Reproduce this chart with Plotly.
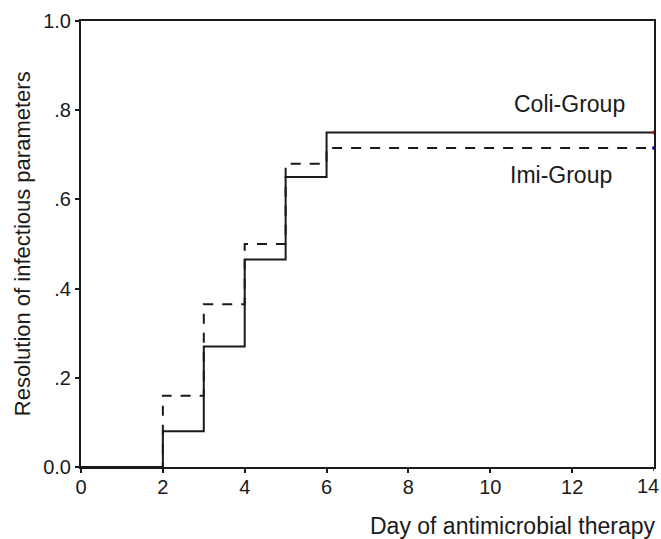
import plotly.graph_objects as go

days = [0, 2, 3, 4, 5, 6, 14]
coli_group = [0, 0.08, 0.27, 0.465, 0.65, 0.75, 0.75]
imi_group = [0, 0.16, 0.365, 0.50, 0.68, 0.715, 0.715]

x_ticks = [0, 2, 4, 6, 8, 10, 12, 14]
x_tick_labels = ["0", "2", "4", "6", "8", "10", "12", "14"]
y_ticks = [0.0, 0.2, 0.4, 0.6, 0.8, 1.0]
y_tick_labels = ["0.0", ".2", ".4", ".6", ".8", "1.0"]

FONT = "Liberation Sans, Arial, sans-serif"
INK = "#1a1a1a"

fig = go.Figure()
fig.add_trace(go.Scatter(
    x=days, y=imi_group, mode="lines", line_shape="hv",
    line=dict(color=INK, width=2, dash="10px,9px"),
    showlegend=False, hoverinfo="skip"))
fig.add_trace(go.Scatter(
    x=days, y=coli_group, mode="lines", line_shape="hv",
    line=dict(color=INK, width=2),
    showlegend=False, hoverinfo="skip"))
fig.add_trace(go.Scatter(
    x=[days[-1]], y=[coli_group[-1]], mode="markers",
    marker=dict(color="red", size=4), showlegend=False, cliponaxis=False))
fig.add_trace(go.Scatter(
    x=[days[-1]], y=[imi_group[-1]], mode="markers",
    marker=dict(color="blue", size=4), showlegend=False, cliponaxis=False))

fig.add_annotation(x=11.94, y=coli_group[-1], yshift=29, text="Coli-Group",
                   showarrow=False, font=dict(family=FONT, size=23, color=INK))
fig.add_annotation(x=11.72, y=imi_group[-1], yshift=-27, text="Imi-Group",
                   showarrow=False, font=dict(family=FONT, size=23, color=INK))
fig.add_annotation(x=1.005, xref="paper", xanchor="right", y=-0.133, yref="paper",
                   yanchor="middle", text="Day of antimicrobial therapy", borderpad=0,
                   showarrow=False, font=dict(family=FONT, size=23, color=INK))
fig.add_annotation(x=-0.1026, xref="paper", xanchor="center", y=0.5, yref="paper",
                   yanchor="middle", textangle=-90,
                   text="Resolution of infectious parameters",
                   showarrow=False, font=dict(family=FONT, size=22, color=INK))
# last x tick label is kept inside the page, as in the reference
fig.add_annotation(x=1.0105, xref="paper", xanchor="right", y=x_ticks[-1] * 0, yref="y",
                   yshift=-19, yanchor="middle", text=x_tick_labels[-1], borderpad=0,
                   showarrow=False, font=dict(family=FONT, size=20, color=INK))

fig.update_xaxes(range=[0, 14], tickvals=x_ticks[:-1], ticktext=x_tick_labels[:-1],
                 ticks="outside", ticklen=4, tickwidth=1.5, tickcolor=INK, showline=True,
                 linecolor=INK, linewidth=2, mirror=True, showgrid=False, zeroline=False,
                 automargin=False, ticklabelstandoff=-3,
                 tickfont=dict(family=FONT, size=20, color=INK))
fig.update_yaxes(range=[0, 1], tickvals=y_ticks, ticktext=y_tick_labels, ticks="outside",
                 ticklen=4, tickwidth=1.5, tickcolor=INK, showline=True,
                 linecolor=INK, linewidth=2, mirror=True, showgrid=False,
                 zeroline=False, automargin=False,
                 tickfont=dict(family=FONT, size=20, color=INK))
# tick mark for the last day
fig.add_shape(type="line", xref="x", yref="paper", x0=x_ticks[-1], x1=x_ticks[-1],
              y0=0, y1=-0.009, line=dict(color=INK, width=1.5))

fig.update_layout(width=661, height=539, plot_bgcolor="white", paper_bgcolor="white",
                  margin=dict(l=81, r=7, t=21, b=72, autoexpand=False))

fig.write_html("out.html", config={"displayModeBar": False},
               post_script="document.body.style.margin='0';")
